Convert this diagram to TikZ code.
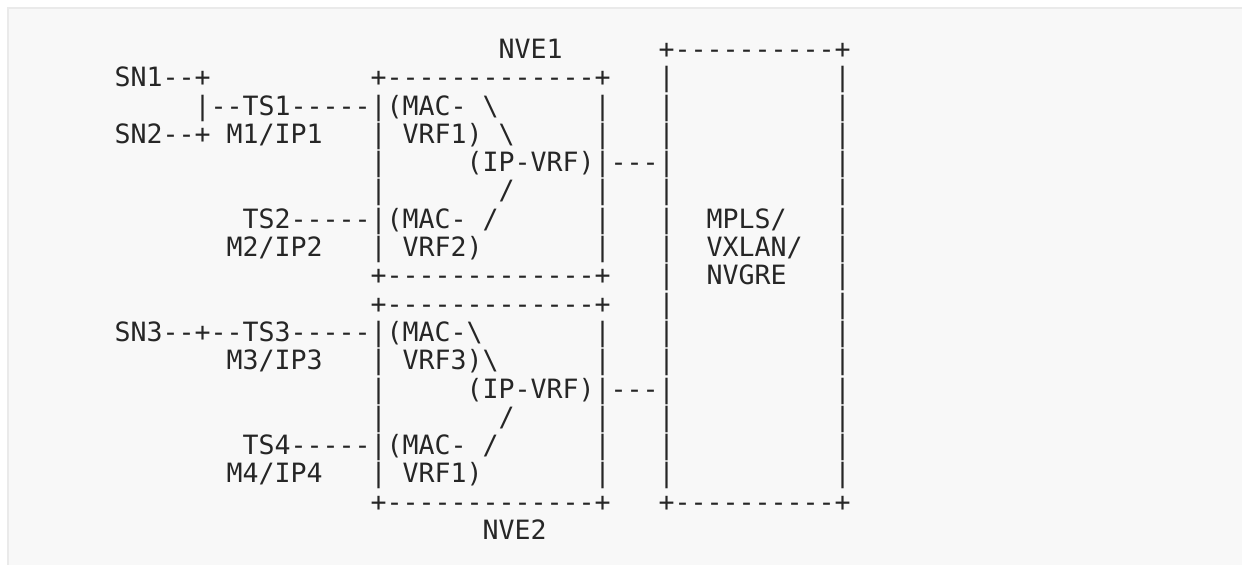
\documentclass[tikz,border=0pt]{standalone}
\usepackage{fontspec}
\setmonofont{DejaVu Sans Mono}
\definecolor{pagebg}{HTML}{F8F8F8}
\definecolor{framec}{HTML}{EAEAEA}
\definecolor{inkc}{HTML}{262626}
\tikzset{
  seg/.style={anchor=base west, inner sep=0pt, outer sep=0pt, text=inkc,
    font=\ttfamily\fontsize{13.29pt}{16pt}\selectfont}
}
\newcommand\putseg[4]{\node[seg] (#1) at (#3+7.169,#2+1.067) {#4};}
\begin{document}
\begin{tikzpicture}[x=8pt,y=-14.15pt]
\useasboundingbox (0pt,0pt) rectangle (621pt,-282.5pt);
\begin{scope}
\clip (0pt,0pt) rectangle (621pt,-282.5pt);
\fill[white] (0pt,0pt) rectangle (621pt,-282.5pt);
\draw[framec, line width=1pt, fill=pagebg] (4pt,-4pt) rectangle (700pt,-400pt);
\end{scope}
% row 1
\putseg{nvea}{1}{24}{NVE1}
\putseg{r1b}{1}{34}{+----------+}
% row 2
\putseg{snone}{2}{0}{SN1--+}
\putseg{r2b}{2}{16}{+-------------+}
\putseg{r2c}{2}{34}{|}
\putseg{r2d}{2}{45}{|}
% row 3
\putseg{tsone}{3}{5}{|--TS1-----|(MAC- \textbackslash}
\putseg{r3b}{3}{30}{|}
\putseg{r3c}{3}{34}{|}
\putseg{r3d}{3}{45}{|}
% row 4
\putseg{sntwo}{4}{0}{SN2--+ M1/IP1}
\putseg{r4b}{4}{16}{| VRF1) \textbackslash}
\putseg{r4c}{4}{30}{|}
\putseg{r4d}{4}{34}{|}
\putseg{r4e}{4}{45}{|}
% row 5
\putseg{r5a}{5}{16}{|}
\putseg{ipvrfa}{5}{22}{(IP-VRF)|---|}
\putseg{r5c}{5}{45}{|}
% row 6
\putseg{r6a}{6}{16}{|}
\putseg{r6b}{6}{24}{/}
\putseg{r6c}{6}{30}{|}
\putseg{r6d}{6}{34}{|}
\putseg{r6e}{6}{45}{|}
% row 7
\putseg{tstwo}{7}{8}{TS2-----|(MAC- /}
\putseg{r7b}{7}{30}{|}
\putseg{r7c}{7}{34}{|}
\putseg{mpls}{7}{37}{MPLS/}
\putseg{r7e}{7}{45}{|}
% row 8
\putseg{mtwo}{8}{7}{M2/IP2}
\putseg{r8b}{8}{16}{| VRF2)}
\putseg{r8c}{8}{30}{|}
\putseg{r8d}{8}{34}{|}
\putseg{vxlan}{8}{37}{VXLAN/}
\putseg{r8f}{8}{45}{|}
% row 9
\putseg{r9a}{9}{16}{+-------------+}
\putseg{r9b}{9}{34}{|}
\putseg{nvgre}{9}{37}{NVGRE}
\putseg{r9d}{9}{45}{|}
% row 10
\putseg{r10a}{10}{16}{+-------------+}
\putseg{r10b}{10}{34}{|}
\putseg{r10c}{10}{45}{|}
% row 11
\putseg{snthree}{11}{0}{SN3--+--TS3-----|(MAC-\textbackslash}
\putseg{r11b}{11}{30}{|}
\putseg{r11c}{11}{34}{|}
\putseg{r11d}{11}{45}{|}
% row 12
\putseg{mthree}{12}{7}{M3/IP3}
\putseg{r12b}{12}{16}{| VRF3)\textbackslash}
\putseg{r12c}{12}{30}{|}
\putseg{r12d}{12}{34}{|}
\putseg{r12e}{12}{45}{|}
% row 13
\putseg{r13a}{13}{16}{|}
\putseg{ipvrfb}{13}{22}{(IP-VRF)|---|}
\putseg{r13c}{13}{45}{|}
% row 14
\putseg{r14a}{14}{16}{|}
\putseg{r14b}{14}{24}{/}
\putseg{r14c}{14}{30}{|}
\putseg{r14d}{14}{34}{|}
\putseg{r14e}{14}{45}{|}
% row 15
\putseg{tsfour}{15}{8}{TS4-----|(MAC- /}
\putseg{r15b}{15}{30}{|}
\putseg{r15c}{15}{34}{|}
\putseg{r15d}{15}{45}{|}
% row 16
\putseg{mfour}{16}{7}{M4/IP4}
\putseg{r16b}{16}{16}{| VRF1)}
\putseg{r16c}{16}{30}{|}
\putseg{r16d}{16}{34}{|}
\putseg{r16e}{16}{45}{|}
% row 17
\putseg{r17a}{17}{16}{+-------------+}
\putseg{r17b}{17}{34}{+----------+}
% row 18
\putseg{nveb}{18}{23}{NVE2}
\end{tikzpicture}
\end{document}
